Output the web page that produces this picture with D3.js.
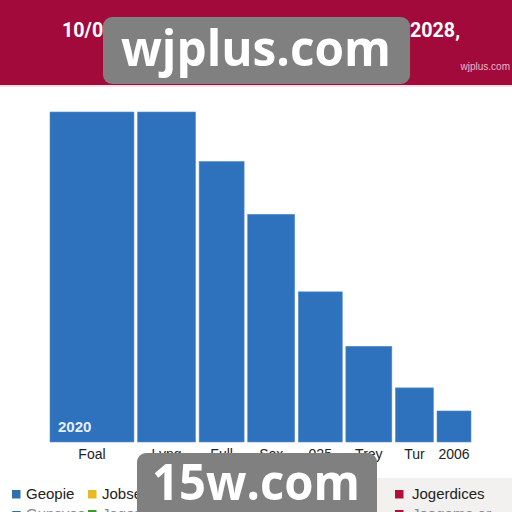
<!DOCTYPE html>
<html><head><meta charset="utf-8">
<script src="https://cdn.jsdelivr.net/npm/d3@7"></script>
<style>html,body{margin:0;padding:0;background:#fff;}svg{display:block;}</style>
</head><body>
<svg id="chart" width="512" height="512"></svg>
<script>
const categories = ["Foal","Lyng","Full","Sox","025","Trey","Tur","2006"];
const values = [100, 100, 85, 69, 45.5, 29, 16.4, 9.4];
const widthShares = [84, 58, 45, 47, 44, 46, 38, 34];
const barLabel = "2020";
const titleText = "10/08 Population Estimates by Region, 2028,";
const legendRow1 = [["Geopie","#2f6fae","square"],["Jobse","#e8b923","square"],["Jogerdices","#b0103a","square"]];
const legendRow2 = [["Gunsyes","#2f6fae","tri"],["Jagonsapre","#3a9a2a","square"],["Joogema ar","#b0103a","square"]];

const svg = d3.select("#chart");
const gap = 3.6;
let acc = 0;
const starts = widthShares.map((w,i)=>{const s=acc; acc += w + gap; return s;});
const total = acc - gap;
const x = d3.scaleLinear().domain([0,total]).range([50,471]);
const y = d3.scaleLinear().domain([0,100]).range([442,112]);

// header
svg.append("rect").attr("x",0).attr("y",0).attr("width",512).attr("height",85).attr("fill","#a10a3b");
svg.append("rect").attr("x",0).attr("y",85).attr("width",512).attr("height",2).attr("fill","#f7dfe6");
svg.append("text").attr("x",261).attr("y",37).attr("text-anchor","middle")
  .attr("font-family","Roboto, Arial, sans-serif").attr("font-weight","bold").attr("font-size",20)
  .attr("fill","#fff").attr("textLength",398).attr("lengthAdjust","spacingAndGlyphs").text(titleText);
svg.append("text").attr("x",510).attr("y",70).attr("text-anchor","end")
  .attr("font-family","Arial, sans-serif").attr("font-size",10).attr("fill","#e9b9c6").text("wjplus.com");

// bars
const data = categories.map((c,i)=>({c, v:values[i], s:starts[i], w:widthShares[i]}));
svg.append("g").selectAll("rect").data(data).join("rect")
  .attr("x",d=>x(d.s)).attr("width",d=>x(d.s+d.w)-x(d.s))
  .attr("y",d=>y(d.v)).attr("height",d=>y(0)-y(d.v))
  .attr("fill","#2e71bd").attr("stroke","#5b8fcc").attr("stroke-width",0.6);

// in-bar label
svg.append("text").attr("x",x(starts[0])+8).attr("y",432)
  .attr("font-family","Arial, sans-serif").attr("font-weight","bold").attr("font-size",15)
  .attr("fill","#e6eef8").text(barLabel);

// x labels
svg.append("g").selectAll("text").data(data).join("text")
  .attr("x",d=>x(d.s+d.w/2)).attr("y",459).attr("text-anchor","middle")
  .attr("font-family","Arial, sans-serif").attr("font-size",14).attr("fill","#222")
  .text(d=>d.c);

// legend background panel (right)
svg.append("rect").attr("x",377).attr("y",478).attr("width",135).attr("height",34).attr("fill","#f3f1f0");

const legX = [12, 88, 395];
function drawLegend(row, yy, col){
  row.forEach((r,i)=>{
    const g = svg.append("g");
    if(r[2]==="square"){
      g.append("rect").attr("x",legX[i]).attr("y",yy-8).attr("width",8.5).attr("height",8.5).attr("fill",r[1]);
    } else {
      g.append("path").attr("d",`M${legX[i]},${yy-7} L${legX[i]+9},${yy-7} L${legX[i]+4.5},${yy+1} Z`).attr("fill",r[1]);
    }
    g.append("text").attr("x",legX[i]+(i===2?17:14)).attr("y",yy+1)
      .attr("font-family","Arial, sans-serif").attr("font-size",15).attr("fill",col).text(r[0]);
  });
}
drawLegend(legendRow1, 498, "#222");
drawLegend(legendRow2, 518, "#888");

// watermarks
svg.append("rect").attr("x",103).attr("y",17).attr("width",307).attr("height",67).attr("rx",9).attr("fill","#808080");
svg.append("text").attr("x",256).attr("y",66).attr("text-anchor","middle")
  .attr("font-family","'Open Sans', Arial, sans-serif").attr("font-weight","bold").attr("font-size",50)
  .attr("fill","#fff").attr("textLength",270).attr("lengthAdjust","spacingAndGlyphs").text("wjplus.com");
svg.append("rect").attr("x",137).attr("y",453).attr("width",240).attr("height",70).attr("rx",9).attr("fill","#808080");
svg.append("text").attr("x",256).attr("y",500).attr("text-anchor","middle")
  .attr("font-family","'Open Sans', Arial, sans-serif").attr("font-weight","bold").attr("font-size",50)
  .attr("fill","#fff").attr("textLength",208).attr("lengthAdjust","spacingAndGlyphs").text("15w.com");
</script>
</body></html>
